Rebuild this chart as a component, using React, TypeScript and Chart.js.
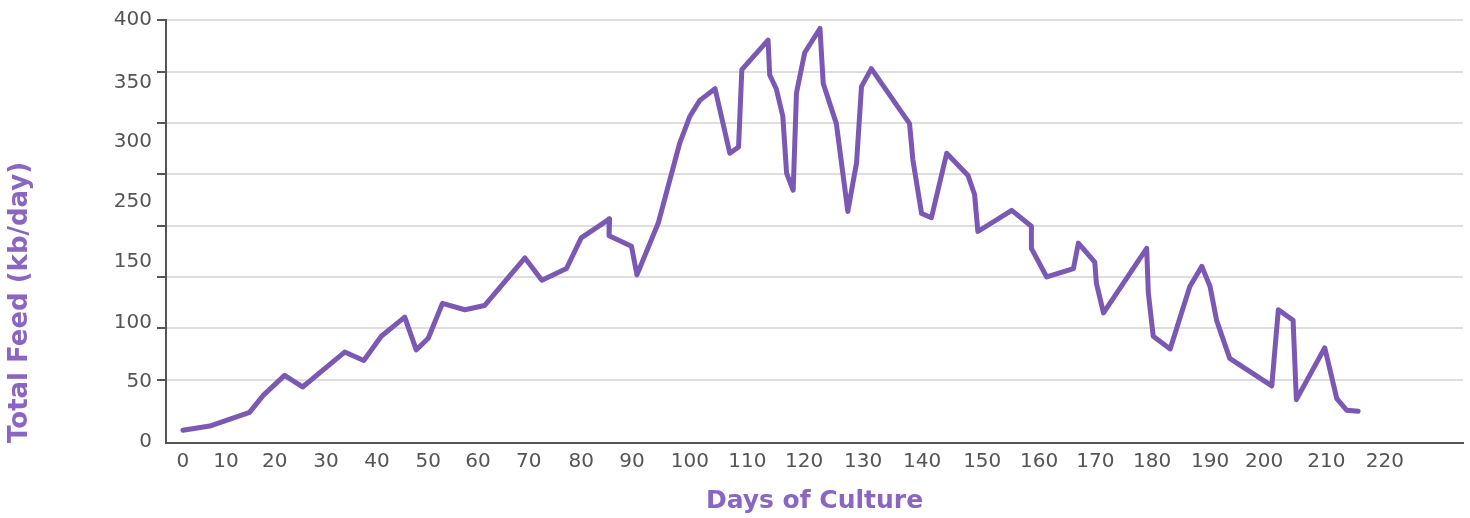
import React, { useEffect, useRef } from 'react';
import { Chart, registerables } from 'chart.js';

Chart.register(...registerables);

// Days of culture (x) and total feed (kb/day) (y)
const DAYS = [
  0, 4.9, 12.2, 14.7, 18.6, 21.9, 29.6, 33.1, 36.3, 40.6, 42.7, 44.9, 47.5, 51.6, 55.2,
  62.6, 65.7, 70.2, 72.9, 78.1, 78.0, 82.1, 83.1, 87.0, 90.9, 92.8, 94.6, 97.4, 100.1,
  101.7, 102.3, 107.1, 107.4, 108.6, 109.8, 110.5, 111.7, 112.3, 113.8, 116.6, 117.2,
  119.6, 121.7, 123.3, 124.2, 126.0, 133.0, 133.6, 135.2, 137.0, 139.8, 143.7, 144.9,
  145.5, 151.7, 155.3, 155.3, 158.1, 163.0, 163.9, 166.9, 167.2, 168.5, 176.4, 176.7,
  177.6, 180.7, 184.3, 186.5, 188.0, 189.2, 191.6, 199.3, 200.5, 203.2, 203.8, 209.0,
  211.2, 213.0, 215.1,
];
const FEED = [
  12, 16, 29, 45, 64, 53, 86, 78, 101, 119, 88, 99, 132, 126, 130,
  175, 154, 165, 194, 212, 196, 186, 159, 208, 283, 309, 324, 335, 274,
  280, 353, 381, 348, 335, 309, 255, 239, 331, 369, 392, 340,
  302, 219, 265, 337, 354, 302, 268, 217, 213, 274, 253, 235,
  200, 220, 205, 184, 157, 165, 189, 171, 151, 123, 184, 142,
  101, 89, 148, 167, 148, 116, 80, 54, 126, 116, 41, 90,
  42, 31, 30,
];

// Tick labels and where they sit on the axes (as in the reference)
const X_TICK_LABELS = ['0', '10', '20', '30', '40', '50', '60', '70', '80', '90', '100', '110',
  '120', '130', '140', '150', '160', '170', '180', '190', '200', '210', '220'];
const X_TICK_AT = [0, 7.9, 16.8, 26.2, 35.5, 44.9, 54.0, 63.3, 72.9, 82.2, 92.8, 103.3,
  113.7, 124.5, 135.3, 146.3, 156.7, 167.0, 177.4, 188.0, 197.9, 209.3, 220.0];
const Y_TICK_LABELS = ['0', '50', '100', '150', '250', '300', '350', '400'];
const Y_TICK_AT = [1, 58, 114, 171, 228, 285, 341, 400];
const Y_GRID_AT = [60, 109, 157, 205, 254, 303, 351, 400];

const X_TITLE = 'Days of Culture';
const Y_TITLE = 'Total Feed (kb/day)';

const LINE_COLOR = '#7b58b3';
const TITLE_COLOR = '#8a66c2';
const TICK_COLOR = '#555555';
const AXIS_COLOR = '#555555';
const GRID_COLOR = '#dedede';

export default function App() {
  const canvasRef = useRef<HTMLCanvasElement | null>(null);

  useEffect(() => {
    if (!canvasRef.current) return;
    const points = DAYS.map((d, i) => ({ x: d, y: FEED[i] }));
    const tickFont = { family: 'DejaVu Sans', size: 20 };
    const xTitleFont = { family: 'DejaVu Sans', size: 25, weight: 'bold' as const, lineHeight: 1.2 };
    const yTitleFont = { family: 'DejaVu Sans', size: 26, weight: 'bold' as const, lineHeight: 1.2 };

    const chart = new Chart(canvasRef.current, {
      type: 'line',
      data: {
        datasets: [
          {
            label: 'Total Feed',
            data: points,
            borderColor: LINE_COLOR,
            backgroundColor: LINE_COLOR,
            borderWidth: 5,
            pointRadius: 0,
            tension: 0,
            fill: false,
            borderJoinStyle: 'round',
            borderCapStyle: 'round',
            xAxisID: 'x',
            yAxisID: 'y',
          },
        ],
      },
      options: {
        animation: false,
        responsive: true,
        maintainAspectRatio: false,
        layout: { padding: { top: 20, right: 7, bottom: 0, left: 0 } },
        plugins: { legend: { display: false }, tooltip: { enabled: false } },
        scales: {
          x: {
            type: 'linear',
            position: 'bottom',
            min: -3.1,
            max: 234.3,
            afterBuildTicks: (s: any) => {
              s.ticks = X_TICK_AT.map((v) => ({ value: v }));
            },
            ticks: {
              autoSkip: false,
              maxRotation: 0,
              padding: 7,
              color: TICK_COLOR,
              font: tickFont,
              callback: (_v: any, i: number) => X_TICK_LABELS[i],
            },
            grid: { display: false, drawTicks: false },
            border: { display: true, color: AXIS_COLOR, width: 2 },
            title: {
              display: true,
              text: X_TITLE,
              color: TITLE_COLOR,
              font: xTitleFont,
              padding: { top: 0, bottom: 2 },
            },
            afterFit: (s: any) => {
              s.height = 75;
            },
          },
          y: {
            type: 'linear',
            position: 'left',
            weight: 0,
            min: 0,
            max: 400,
            afterBuildTicks: (s: any) => {
              s.ticks = Y_GRID_AT.map((v) => ({ value: v }));
            },
            ticks: { display: false },
            grid: {
              color: GRID_COLOR,
              lineWidth: 2,
              drawTicks: true,
              tickLength: 9,
              tickColor: AXIS_COLOR,
              tickWidth: 2,
            },
            border: { display: true, color: AXIS_COLOR, width: 2 },
            afterFit: (s: any) => {
              s.width = 9;
            },
          },
          yl: {
            type: 'linear',
            position: 'left',
            weight: 10,
            min: 0,
            max: 400,
            afterBuildTicks: (s: any) => {
              s.ticks = Y_TICK_AT.map((v) => ({ value: v }));
            },
            ticks: {
              autoSkip: false,
              padding: 5,
              color: TICK_COLOR,
              font: tickFont,
              callback: (_v: any, i: number) => Y_TICK_LABELS[i],
            },
            grid: { display: false, drawTicks: false },
            border: { display: false },
            title: {
              display: true,
              text: Y_TITLE,
              align: 'start',
              color: TITLE_COLOR,
              font: yTitleFont,
              padding: { top: 5, bottom: 0 },
            },
            afterFit: (s: any) => {
              s.width = 157;
            },
          },
        },
      },
    } as any);

    return () => chart.destroy();
  }, []);

  return (
    <div style={{ position: 'fixed', left: 0, top: 0, width: 1470, height: 518, background: '#ffffff' }}>
      <canvas ref={canvasRef} />
    </div>
  );
}
